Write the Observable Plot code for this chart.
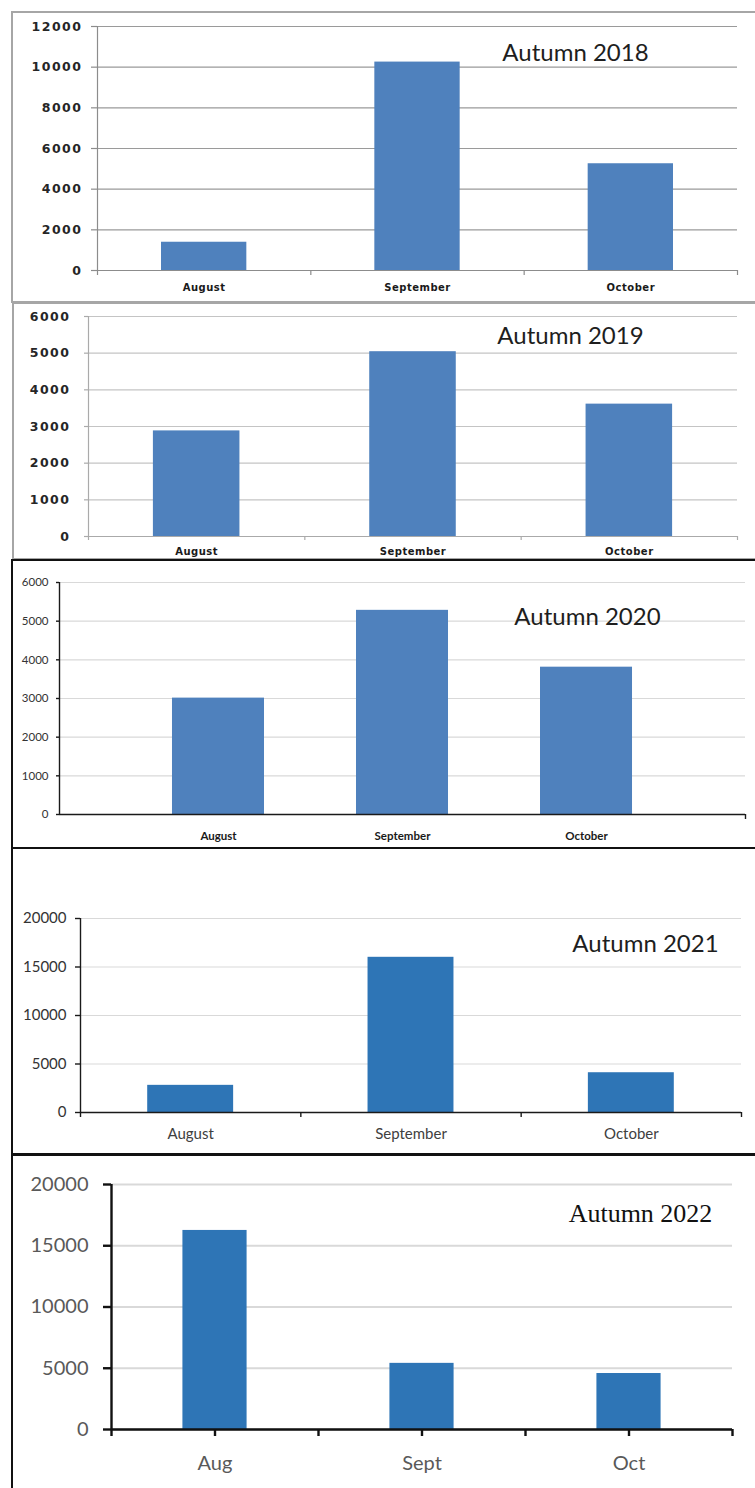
<!DOCTYPE html>
<html>
<head>
<meta charset="utf-8">
<script src="https://cdn.jsdelivr.net/npm/d3@7"></script>
<script src="https://cdn.jsdelivr.net/npm/@observablehq/plot@0.6"></script>
<style>
  body { margin: 0; background: #fff; }
  #page { position: relative; width: 755px; height: 1488px; overflow: hidden; background: #fff; }
  .panel { position: absolute; left: 0; }
  .box { position: absolute; box-sizing: border-box; pointer-events: none; }
  /* the two older charts use wide, bold labels */
  #p2018 g[aria-label="y-axis tick label"], #p2019 g[aria-label="y-axis tick label"] { letter-spacing: 1.5px; }
  #p2018 g[aria-label="x-axis tick label"], #p2019 g[aria-label="x-axis tick label"] { letter-spacing: 0.5px; }
</style>
</head>
<body>
<div id="page"></div>
<script>
// Monthly totals for each autumn
const months = ["August", "September", "October"];
const monthsShort = ["Aug", "Sept", "Oct"];

const values2018 = [1390, 10250, 5250];
const values2019 = [2880, 5040, 3610];
const values2020 = [3010, 5280, 3810];
const values2021 = [2800, 16000, 4100];
const values2022 = [16250, 5400, 4570];

const ticks2018 = [0, 2000, 4000, 6000, 8000, 10000, 12000];
const ticks2019 = [0, 1000, 2000, 3000, 4000, 5000, 6000];
const ticks2020 = [0, 1000, 2000, 3000, 4000, 5000, 6000];
const ticks2021 = [0, 5000, 10000, 15000, 20000];
const ticks2022 = [0, 5000, 10000, 15000, 20000];

const title2018 = "Autumn 2018";
const title2019 = "Autumn 2019";
const title2020 = "Autumn 2020";
const title2021 = "Autumn 2021";
const title2022 = "Autumn 2022";

const page = document.getElementById("page");

function panel(cfg) {
  const {
    id, top, height, margin, labels, values, yTicks, title,
    xDomain = [0, 3], barWidth, edgeTicks, s
  } = cfg;
  const data = values.map((v, i) => ({i, label: labels[i], value: v}));
  const centers = labels.map((_, i) => i + 0.5);
  const yMax = yTicks[yTicks.length - 1];

  const chart = Plot.plot({
    width: 755,
    height,
    marginTop: margin.top,
    marginRight: margin.right,
    marginBottom: margin.bottom,
    marginLeft: margin.left,
    style: {background: "transparent", fontFamily: "Lato", color: "#333"},
    x: {type: "linear", domain: xDomain, label: null},
    y: {domain: [0, yMax], label: null},
    marks: [
      Plot.gridY(yTicks, {stroke: s.grid, strokeOpacity: 1, strokeWidth: s.gridWidth}),
      Plot.rectY(data, {
        x1: d => d.i + 0.5 - barWidth / 2,
        x2: d => d.i + 0.5 + barWidth / 2,
        y1: 0,
        y2: "value",
        fill: s.bar
      }),
      Plot.ruleY([0], {stroke: s.axis, strokeWidth: s.axisWidth}),
      Plot.ruleX([xDomain[0]], {stroke: s.axis, strokeWidth: s.axisWidth}),
      Plot.axisY(yTicks, {
        anchor: "left",
        label: null,
        tickSize: s.yTickSize,
        tickPadding: s.yTickPadding,
        tickFormat: d3.format("d"),
        stroke: s.axis,
        strokeWidth: s.axisWidth,
        fill: s.yText,
        fontFamily: s.yFont,
        fontSize: s.ySize,
        fontWeight: s.yWeight
      }),
      Plot.axisX(edgeTicks, {
        anchor: "bottom",
        label: null,
        tickSize: s.xTickSize,
        tickFormat: () => "",
        stroke: s.axis,
        strokeWidth: s.axisWidth
      }),
      Plot.axisX(centers, {
        anchor: "bottom",
        label: null,
        tickSize: 0,
        tickPadding: s.xTickPadding,
        tickFormat: d => labels[Math.floor(d)],
        fill: s.xText,
        fontFamily: s.xFont,
        fontSize: s.xSize,
        fontWeight: s.xWeight
      }),
      Plot.text([title], {
        frameAnchor: "top-left",
        dx: s.titleX - margin.left,
        dy: s.titleBaseline - (top + margin.top),
        textAnchor: "middle",
        lineAnchor: "bottom",
        fontFamily: s.titleFont,
        fontSize: s.titleSize,
        fill: s.titleColor
      })
    ]
  });

  const wrap = document.createElement("div");
  wrap.className = "panel";
  wrap.id = id;
  wrap.style.top = top + "px";
  wrap.appendChild(chart);
  page.appendChild(wrap);
}

function box(left, top, height, border) {
  const b = document.createElement("div");
  b.className = "box";
  b.style.left = left + "px";
  b.style.top = top + "px";
  b.style.width = "780px";
  b.style.height = height + "px";
  b.style.border = border;
  page.appendChild(b);
}

const oldBlue = "#4f81bd";
const newBlue = "#2e75b6";

panel({
  id: "p2018", top: 0, height: 302,
  margin: {top: 26, right: 18, bottom: 32, left: 97},
  labels: months, values: values2018, yTicks: ticks2018, title: title2018,
  barWidth: 0.4, edgeTicks: [0, 1, 2, 3],
  s: {
    grid: "#9a9a9a", gridWidth: 1.2, bar: oldBlue, axis: "#8c8c8c", axisWidth: 1.2,
    yTickSize: 6, yTickPadding: 9, yText: "#262626", yFont: "DejaVu Sans", ySize: 12.5, yWeight: "bold",
    xTickSize: 5, xTickPadding: 13, xText: "#1a1a1a", xFont: "DejaVu Sans", xSize: 10, xWeight: "bold",
    titleX: 575, titleBaseline: 60, titleFont: "Lato", titleSize: 24, titleColor: "#1e1e1e"
  }
});

panel({
  id: "p2019", top: 302, height: 258,
  margin: {top: 14, right: 18, bottom: 24, left: 88},
  labels: months, values: values2019, yTicks: ticks2019, title: title2019,
  barWidth: 0.4, edgeTicks: [0, 1, 2, 3],
  s: {
    grid: "#c4c4c4", gridWidth: 1.2, bar: oldBlue, axis: "#aaaaaa", axisWidth: 1.2,
    yTickSize: 4, yTickPadding: 14, yText: "#262626", yFont: "DejaVu Sans", ySize: 12.5, yWeight: "bold",
    xTickSize: 4, xTickPadding: 11, xText: "#1a1a1a", xFont: "DejaVu Sans", xSize: 10, xWeight: "bold",
    titleX: 570, titleBaseline: 343, titleFont: "Lato", titleSize: 24, titleColor: "#1e1e1e"
  }
});

panel({
  id: "p2020", top: 560, height: 289,
  margin: {top: 22, right: 10, bottom: 35, left: 59},
  labels: months, values: values2020, yTicks: ticks2020, title: title2020,
  xDomain: [-0.364, 3.364], barWidth: 0.5, edgeTicks: [3.364],
  s: {
    grid: "#d9d9d9", gridWidth: 1.2, bar: oldBlue, axis: "#1a1a1a", axisWidth: 1.4,
    yTickSize: 3, yTickPadding: 8, yText: "#333333", yFont: "Lato", ySize: 11.5, yWeight: "normal",
    xTickSize: 5, xTickPadding: 17, xText: "#1a1a1a", xFont: "Lato", xSize: 11.5, xWeight: "bold",
    titleX: 587, titleBaseline: 624, titleFont: "Lato", titleSize: 24, titleColor: "#1e1e1e"
  }
});

panel({
  id: "p2021", top: 849, height: 305,
  margin: {top: 69, right: 14, bottom: 42, left: 80},
  labels: months, values: values2021, yTicks: ticks2021, title: title2021,
  barWidth: 0.39, edgeTicks: [0, 1, 2, 3],
  s: {
    grid: "#d9d9d9", gridWidth: 1.2, bar: newBlue, axis: "#1a1a1a", axisWidth: 1.4,
    yTickSize: 5, yTickPadding: 9, yText: "#333333", yFont: "Lato", ySize: 15, yWeight: "normal",
    xTickSize: 5, xTickPadding: 16, xText: "#404040", xFont: "Lato", xSize: 15, xWeight: "normal",
    titleX: 645, titleBaseline: 951, titleFont: "Lato", titleSize: 24, titleColor: "#1e1e1e"
  }
});

panel({
  id: "p2022", top: 1154, height: 334,
  margin: {top: 30, right: 23, bottom: 59, left: 111},
  labels: monthsShort, values: values2022, yTicks: ticks2022, title: title2022,
  barWidth: 0.31, edgeTicks: [0, 0.5, 1, 1.5, 2, 2.5, 3],
  s: {
    grid: "#d9d9d9", gridWidth: 2, bar: newBlue, axis: "#111111", axisWidth: 2.4,
    yTickSize: 8, yTickPadding: 15, yText: "#595959", yFont: "Lato", ySize: 20, yWeight: "normal",
    xTickSize: 7, xTickPadding: 26, xText: "#595959", xFont: "Lato", xSize: 20, xWeight: "normal",
    titleX: 640, titleBaseline: 1221, titleFont: "Liberation Serif", titleSize: 26, titleColor: "#111111"
  }
});

// panel frames
box(11, 11, 292, "2px solid #a6a6a6");
box(12, 302, 258, "2px solid #a6a6a6");
box(11, 559, 290, "2px solid #111");
box(11, 847, 309, "2px solid #111");
box(11, 1153, 400, "2px solid #111");
</script>
</body>
</html>
